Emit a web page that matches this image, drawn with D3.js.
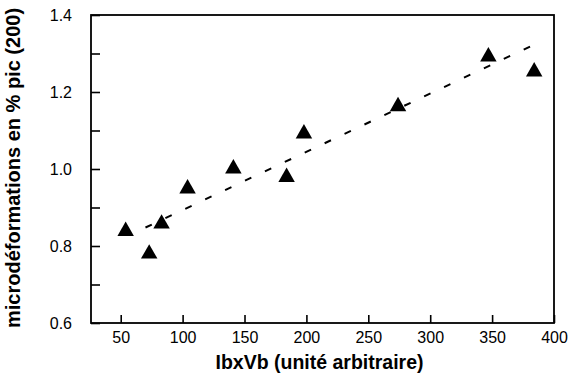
<!DOCTYPE html>
<html>
<head>
<meta charset="utf-8">
<script src="https://cdn.jsdelivr.net/npm/d3@7"></script>
<style>
  html, body { margin: 0; padding: 0; background: #fff; }
  svg { display: block; }
  text { font-family: "Liberation Sans", Arial, sans-serif; fill: #000; }
</style>
</head>
<body>
<svg id="chart" width="570" height="381"></svg>
<script>
// ---- data ----
const xValues = [54, 73, 83, 104, 141, 184, 198, 274, 347, 384];
const yValues = [0.845, 0.786, 0.864, 0.955, 1.007, 0.985, 1.098, 1.169, 1.298, 1.259];
const fitX = [70, 382];
const fitY = [0.848, 1.32];
const xTickValues = [50, 100, 150, 200, 250, 300, 350, 400];
const yTickValues = [0.6, 0.7, 0.8, 0.9, 1.0, 1.1, 1.2, 1.3, 1.4];
const yLabelValues = [0.6, 0.8, 1.0, 1.2, 1.4];
const xTitle = "IbxVb (unité arbitraire)";
const yTitle = "microdéformations en % pic (200)";

const svg = d3.select("#chart");
const margin = { left: 91, right: 16, top: 15, bottom: 58 };
const W = 570, H = 381;

const x = d3.scaleLinear().domain([26, 400]).range([margin.left, W - margin.right]);
const y = d3.scaleLinear().domain([0.6, 1.4]).range([H - margin.bottom, margin.top]);

// frame
svg.append("rect")
  .attr("x", x.range()[0]).attr("y", y.range()[1])
  .attr("width", x.range()[1] - x.range()[0])
  .attr("height", y.range()[0] - y.range()[1])
  .attr("fill", "none").attr("stroke", "#000").attr("stroke-width", 1.8);

// x axis (ticks inside)
const xAxis = svg.append("g")
  .attr("transform", `translate(0,${y.range()[0]})`)
  .call(d3.axisBottom(x).tickValues(xTickValues).tickSizeInner(-8).tickSizeOuter(0)
        .tickFormat(d3.format("d")).tickPadding(11));
xAxis.select(".domain").remove();
xAxis.selectAll("line").attr("stroke", "#000").attr("stroke-width", 1.6);
xAxis.selectAll("text").attr("font-size", 16).attr("font-family", "Liberation Sans, Arial, sans-serif")
  .attr("y", 19.5).attr("dy", 0);

// y axis (ticks inside)
const yAxis = svg.append("g")
  .attr("transform", `translate(${x.range()[0]},0)`)
  .call(d3.axisLeft(y).tickValues(yTickValues).tickSizeInner(-9).tickSizeOuter(0)
        .tickFormat(d => yLabelValues.some(v => Math.abs(v - d) < 1e-9) ? d3.format(".1f")(d) : ""));
yAxis.select(".domain").remove();
yAxis.selectAll("line").attr("stroke", "#000").attr("stroke-width", 1.6);
yAxis.selectAll("text").attr("font-size", 16).attr("font-family", "Liberation Sans, Arial, sans-serif")
  .attr("x", -19);

// fit line
svg.append("path")
  .datum(fitX.map((d, i) => [d, fitY[i]]))
  .attr("d", d3.line().x(d => x(d[0])).y(d => y(d[1])))
  .attr("fill", "none").attr("stroke", "#000").attr("stroke-width", 2)
  .attr("stroke-dasharray", "7,15");

// triangles (bounding-box centred)
const triBox = {
  draw(ctx, size) {
    const w = Math.sqrt(size);
    const h = w * 0.875;
    ctx.moveTo(0, -h / 2);
    ctx.lineTo(w / 2, h / 2);
    ctx.lineTo(-w / 2, h / 2);
    ctx.closePath();
  }
};
svg.append("g").selectAll("path")
  .data(xValues.map((d, i) => [d, yValues[i]]))
  .join("path")
  .attr("transform", d => `translate(${x(d[0])},${y(d[1])})`)
  .attr("d", d3.symbol().type(triBox).size(272))
  .attr("fill", "#000");

// titles
svg.append("text")
  .attr("x", (x.range()[0] + x.range()[1]) / 2 - 3)
  .attr("y", 369)
  .attr("text-anchor", "middle")
  .attr("font-size", 19.5).attr("font-weight", "bold")
  .text(xTitle);

svg.append("text")
  .attr("transform", "rotate(-90)")
  .attr("x", -168).attr("y", 20)
  .attr("text-anchor", "middle")
  .attr("font-size", 20).attr("font-weight", "bold")
  .text(yTitle);
</script>
</body>
</html>
